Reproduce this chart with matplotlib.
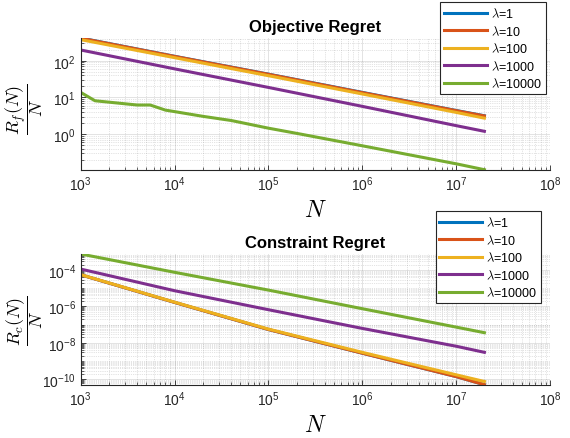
import numpy as np
import matplotlib
matplotlib.use("Agg")
import matplotlib.pyplot as plt
from matplotlib.ticker import LogLocator, NullFormatter, FixedLocator, LogFormatterSciNotation

plt.rcParams['font.family'] = ['Liberation Sans', 'DejaVu Sans']
plt.rcParams['mathtext.fontset'] = 'cm'

# lambda values and MATLAB default colours
lambdas = ['1', '10', '100', '1000', '10000']
colors = ['#0072BD', '#D95319', '#EDB120', '#7E2F8E', '#77AC30']

# sample points
N_pts = [1e3, 1e4, 1e5, 1e6, 1e7, 2e7]

# objective regret R_f(N)/N
obj_l1 = [416, 132, 43, 13.7, 4.4, 3.16]
obj_l10 = [412, 131, 42.6, 13.5, 4.35, 3.12]
obj_l100 = [375, 121, 39, 12.4, 3.9, 2.72]
obj_l1000 = [196, 60, 18.7, 5.7, 1.7, 1.19]
N_green = [1e3, 1.42e3, 4e3, 5.5e3, 8e3, 1e4, 2e4, 4e4, 1e5, 2.2e5, 1e6, 1e7, 2e7]
obj_l10000 = [13.7, 8.1, 6.2, 6.2, 4.5, 4.1, 3.05, 2.35, 1.45, 1.0, 0.48, 0.155, 0.107]

# constraint regret R_c(N)/N
con_l1 = [5.5e-5, 1.67e-6, 5.4e-8, 2.7e-9, 1.4e-10, 5e-11]
con_l10 = [5.5e-5, 1.67e-6, 5.4e-8, 2.7e-9, 1.4e-10, 5e-11]
con_l100 = [5.6e-5, 1.72e-6, 5.7e-8, 3.0e-9, 1.75e-10, 7.5e-11]
con_l1000 = [1.13e-4, 7.3e-6, 6.6e-7, 6.2e-8, 6.5e-9, 3.0e-9]
con_l10000 = [7.6e-4, 7.5e-5, 7.9e-6, 7.5e-7, 7.3e-8, 3.6e-8]

W, H = 570, 439
fig = plt.figure(figsize=(W / 100, H / 100), dpi=100)


def px_axes(left, top, right, bottom):
    return fig.add_axes([left / W, 1 - bottom / H, (right - left) / W, (bottom - top) / H])


def style(ax, major_y=None):
    ax.set_xscale('log')
    ax.set_yscale('log')
    ax.set_xlim(1e3, 1e8)
    for s in ['top', 'right']:
        ax.spines[s].set_visible(False)
    for s in ['left', 'bottom']:
        ax.spines[s].set_color('#262626')
        ax.spines[s].set_linewidth(0.8)
    ax.xaxis.set_major_locator(LogLocator(base=10, numticks=100))
    ax.xaxis.set_minor_locator(LogLocator(base=10, subs=np.arange(1, 10), numticks=100))
    if major_y is not None:
        ax.yaxis.set_major_locator(FixedLocator(major_y))
        ax.yaxis.set_major_formatter(LogFormatterSciNotation())
    else:
        ax.yaxis.set_major_locator(LogLocator(base=10, numticks=100))
    ax.yaxis.set_minor_locator(LogLocator(base=10, subs=np.arange(1, 10), numticks=100))
    ax.xaxis.set_minor_formatter(NullFormatter())
    ax.yaxis.set_minor_formatter(NullFormatter())
    ax.tick_params(which='both', direction='in', colors='#262626', labelsize=10)
    ax.tick_params(which='major', length=3.5, width=0.6)
    ax.tick_params(which='minor', length=2, width=0.5)
    ax.grid(which='major', color='#262626', alpha=0.15, linewidth=0.6)
    ax.grid(which='minor', color='#262626', alpha=0.25, linewidth=0.5, linestyle=':')
    ax.set_axisbelow(True)


def legend(ax, x1, y1):
    leg = ax.legend(loc='upper right', bbox_to_anchor=(x1 / W, 1 - y1 / H),
                    bbox_transform=fig.transFigure, borderaxespad=0,
                    fontsize=9, handlelength=3.4, handletextpad=0.35,
                    labelspacing=0.28, borderpad=0.3, fancybox=False,
                    framealpha=1, edgecolor='#262626')
    leg.get_frame().set_linewidth(0.8)


lw = 2.2
labels = [r'$\lambda$=' + l for l in lambdas]

# top: objective regret
ax1 = px_axes(80.7, 39, 550, 170.7)
style(ax1)
for vals, c, lab in zip([obj_l1, obj_l10, obj_l100, obj_l1000], colors[:4], labels[:4]):
    ax1.plot(N_pts, vals, color=c, lw=lw, label=lab)
ax1.plot(N_green, obj_l10000, color=colors[4], lw=lw, label=labels[4])
all_obj = obj_l1 + obj_l10 + obj_l100 + obj_l1000 + obj_l10000
ax1.set_ylim(min(all_obj), max(all_obj))
ax1.set_title('Objective Regret', fontsize=12, fontweight='bold', pad=5)
ax1.set_xlabel(r'$N$', fontsize=17, labelpad=4)
ax1.set_ylabel(r'$\dfrac{R_f(N)}{N}$', fontsize=13)
ax1.yaxis.set_label_coords(-0.076, 0.47)
legend(ax1, 545.7, 3.3)

# bottom: constraint regret
ax2 = px_axes(80.7, 255, 550, 385.7)
style(ax2, major_y=[1e-10, 1e-8, 1e-6, 1e-4])
for vals, c, lab in zip([con_l1, con_l10, con_l100, con_l1000, con_l10000], colors, labels):
    ax2.plot(N_pts, vals, color=c, lw=lw, label=lab)
all_con = con_l1 + con_l10 + con_l100 + con_l1000 + con_l10000
ax2.set_ylim(min(all_con), max(all_con))
ax2.set_title('Constraint Regret', fontsize=12, fontweight='bold', pad=5)
ax2.set_xlabel(r'$N$', fontsize=17, labelpad=4)
ax2.set_ylabel(r'$\dfrac{R_c(N)}{N}$', fontsize=13)
ax2.yaxis.set_label_coords(-0.076, 0.50)
legend(ax2, 541, 212.3)

fig.savefig('out.png', dpi=100)
